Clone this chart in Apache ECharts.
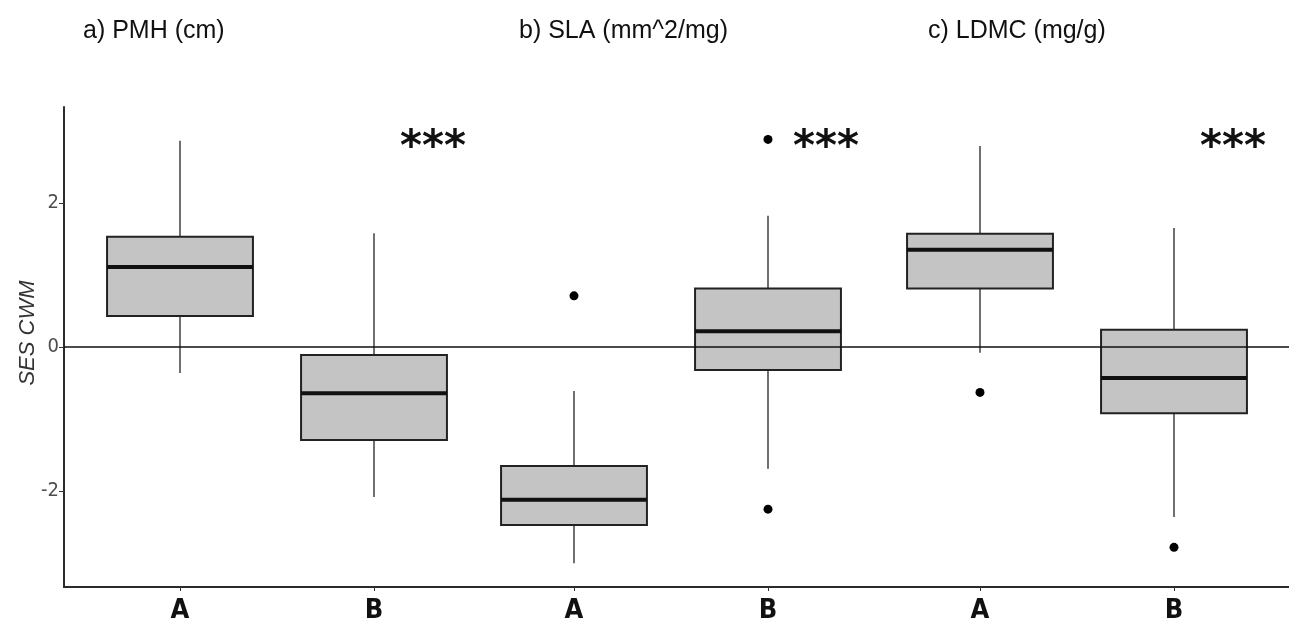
<!DOCTYPE html>
<html>
<head>
<meta charset="utf-8">
<script src="https://cdn.jsdelivr.net/npm/echarts@6/dist/echarts.min.js"></script>
<style>
html, body { margin: 0; padding: 0; background: #fff; }
#main { width: 1289px; height: 632px; }
</style>
</head>
<body>
<div id="main"></div>
<script>
var groups = ['A', 'B'];
var panelTitles = ['a) PMH (cm)', 'b) SLA (mm^2/mg)', 'c) LDMC (mg/g)'];
var signif = ['***', '***', '***'];
// each box: [lower whisker, Q1, median, Q3, upper whisker]
var pmhBoxes = [[-0.36, 0.43, 1.11, 1.53, 2.86], [-2.08, -1.29, -0.64, -0.11, 1.58]];
var slaBoxes = [[-3.0, -2.47, -2.12, -1.65, -0.61], [-1.69, -0.32, 0.22, 0.81, 1.82]];
var ldmcBoxes = [[-0.08, 0.81, 1.35, 1.57, 2.79], [-2.36, -0.92, -0.43, 0.24, 1.65]];
var pmhOutliers = [];
var slaOutliers = [['A', 0.71], ['B', 2.88], ['B', -2.25]];
var ldmcOutliers = [['A', -0.63], ['B', -2.78]];
var yTicks = [-2, 0, 2];
var yMin = -3.33, yMax = 3.33;

var narrow = '"DejaVu Sans Condensed", "Liberation Sans Narrow", "Liberation Sans", sans-serif';

var myChart = echarts.init(document.getElementById('main'));

function renderBox(params, api) {
    var x = api.value(0);
    var lo = api.coord([x, api.value(1)]);
    var q1 = api.coord([x, api.value(2)]);
    var md = api.coord([x, api.value(3)]);
    var q3 = api.coord([x, api.value(4)]);
    var hi = api.coord([x, api.value(5)]);
    var half = api.size([1, 0])[0] * 0.376;
    var cx = lo[0];
    return {
        type: 'group',
        children: [
            { type: 'line', shape: { x1: cx, y1: hi[1], x2: cx, y2: q3[1] }, style: { stroke: '#333', lineWidth: 1.4 } },
            { type: 'line', shape: { x1: cx, y1: q1[1], x2: cx, y2: lo[1] }, style: { stroke: '#333', lineWidth: 1.4 } },
            { type: 'rect', shape: { x: cx - half, y: q3[1], width: half * 2, height: q1[1] - q3[1] },
              style: { fill: '#c4c4c4', stroke: '#222', lineWidth: 2 } },
            { type: 'line', shape: { x1: cx - half, y1: md[1], x2: cx + half, y2: md[1] }, style: { stroke: '#111', lineWidth: 4 } }
        ]
    };
}

var panels = [
    { boxes: pmhBoxes, outliers: pmhOutliers, left: 83, width: 388 },
    { boxes: slaBoxes, outliers: slaOutliers, left: 477, width: 388 },
    { boxes: ldmcBoxes, outliers: ldmcOutliers, left: 883, width: 388 }
];

var grids = [{ left: 64, right: 0, top: 107, bottom: 45 }];
var xAxes = [{
    gridIndex: 0, type: 'value', min: 0, max: 1,
    axisLine: { show: true, onZero: false, lineStyle: { color: '#2b2b2b', width: 2 } },
    axisTick: { show: false }, axisLabel: { show: false }, splitLine: { show: false }
}];
var yAxes = [{
    gridIndex: 0, type: 'value', min: yMin, max: yMax,
    axisLine: { show: true, onZero: false, lineStyle: { color: '#2b2b2b', width: 2 } },
    axisTick: { show: true, length: 5, customValues: yTicks, lineStyle: { color: '#333' } },
    axisLabel: { customValues: yTicks, fontSize: 20, color: '#4d4d4d', fontFamily: narrow, margin: 5 },
    splitLine: { show: false }
}];
var series = [{
    type: 'scatter', xAxisIndex: 0, yAxisIndex: 0, data: [], silent: true,
    markLine: {
        silent: true, symbol: 'none', label: { show: false },
        lineStyle: { color: '#111', width: 1.5, type: 'solid' },
        data: [{ yAxis: 0 }]
    }
}];

panels.forEach(function (p, i) {
    var g = i + 1;
    grids.push({ left: p.left, width: p.width, top: 107, bottom: 45 });
    xAxes.push({
        gridIndex: g, type: 'category', data: groups,
        axisLine: { show: false, onZero: false },
        axisTick: { show: true, alignWithLabel: true, length: 4, lineStyle: { color: '#333' } },
        axisLabel: { fontSize: 27, fontWeight: 'bold', color: '#111', fontFamily: narrow, margin: 10 }
    });
    yAxes.push({ gridIndex: g, type: 'value', min: yMin, max: yMax, show: false });
    series.push({
        type: 'custom', xAxisIndex: g, yAxisIndex: g,
        renderItem: renderBox,
        encode: { x: 0, y: [1, 2, 3, 4, 5] },
        data: p.boxes.map(function (b, k) { return [k].concat(b); }),
        z: 3
    });
    series.push({
        type: 'scatter', xAxisIndex: g, yAxisIndex: g,
        symbolSize: 9, itemStyle: { color: '#000', opacity: 1 },
        data: p.outliers, z: 4
    });
});

var titleX = [83, 519, 928];
var starX = [400, 793, 1200];
var graphics = [{
    type: 'text', x: 28, y: 333, rotation: Math.PI / 2,
    style: { text: 'SES CWM', font: 'italic 22px "Liberation Sans"', fill: '#333',
             textAlign: 'center', textVerticalAlign: 'middle' }
}];
panelTitles.forEach(function (t, i) {
    graphics.push({
        type: 'text', left: titleX[i], top: 19,
        style: { text: t, font: '25px "Liberation Sans"', fill: '#111' }
    });
    graphics.push({
        type: 'text', left: starX[i], top: 128,
        style: { text: signif[i], font: 'bold 42px "DejaVu Sans"', fill: '#111' }
    });
});

option = {
    animation: false,
    backgroundColor: '#fff',
    grid: grids,
    xAxis: xAxes,
    yAxis: yAxes,
    series: series,
    graphic: graphics
};

myChart.setOption(option);
</script>
</body>
</html>
